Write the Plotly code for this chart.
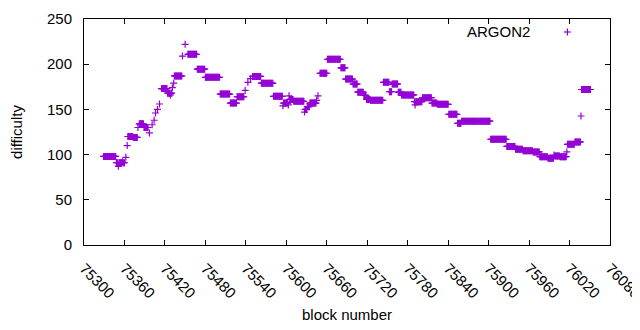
import plotly.graph_objects as go

# Runs of blocks sharing one difficulty value (start block, end block, difficulty)
run_start = [75329, 75348, 75351, 75352, 75357, 75358, 75362, 75364,
             75365, 75373, 75380, 75382, 75389, 75397,
             75401, 75404, 75406, 75409, 75412,
             75415, 75424, 75428, 75429, 75431, 75433,
             75434, 75446, 75450, 75454, 75468, 75480, 75502, 75517, 75527,
             75539, 75543, 75547, 75550, 75563, 75581,
             75595, 75596, 75603, 75604, 75605, 75611,
             75627, 75628, 75631, 75635, 75645, 75647,
             75650, 75661, 75681, 75688, 75699, 75706, 75715, 75719, 75725,
             75744, 75753, 75757, 75766, 75771, 75790, 75791, 75792,
             75802, 75816, 75824, 75841, 75854, 75860, 75903, 75927, 75940,
             75951, 75966, 75976, 75988, 75997, 75998, 76006, 76016,
             76017, 76028, 76037, 76038]
run_end = [75347, 75350, 75351, 75356, 75357, 75360, 75362, 75364,
           75372, 75379, 75380, 75388, 75395, 75397,
           75401, 75404, 75406, 75409, 75412,
           75423, 75427, 75428, 75430, 75431, 75433,
           75445, 75446, 75450, 75467, 75479, 75501, 75516, 75526, 75537,
           75539, 75543, 75547, 75562, 75580, 75594,
           75595, 75602, 75603, 75604, 75610, 75626,
           75627, 75630, 75634, 75644, 75645, 75647,
           75660, 75680, 75687, 75698, 75705, 75714, 75718, 75724, 75743,
           75752, 75756, 75765, 75770, 75789, 75790, 75791, 75801,
           75815, 75823, 75840, 75853, 75859, 75902, 75926, 75939, 75950,
           75965, 75975, 75987, 75996, 75997, 76005, 76015, 76016,
           76027, 76036, 76037, 76051]
run_difficulty = [98, 91, 87, 91, 92, 91, 97, 110,
                  120, 119, 130, 134, 130, 124,
                  133, 138, 146, 150, 156,
                  173, 168, 166, 168, 174, 179,
                  187, 209, 222, 211, 194.5, 185.5, 167, 157, 164,
                  171, 180, 184, 186.5, 179, 164.5,
                  154, 157, 155, 165, 161, 159,
                  147, 150, 153, 157, 160, 165,
                  190, 205.5, 196, 183.5, 178, 169, 165.5, 161, 160,
                  180, 169.5, 178, 169, 166, 158.5, 155, 158.5,
                  163, 157, 155.6, 144.6, 134.6, 137, 117, 109, 106,
                  104.3, 103, 97.7, 96, 99.5, 98.5, 97.7, 103,
                  111.4, 114, 142.7, 172]

x_ticks = list(range(75300, 76081, 60))
y_ticks = [0, 50, 100, 150, 200, 250]

blocks, diffs = [], []
for s, e, d in zip(run_start, run_end, run_difficulty):
    for b in range(s, e + 1):
        blocks.append(b)
        diffs.append(d)

COLOR = "#9400d3"
FONT = "Liberation Sans"

fig = go.Figure()
fig.add_trace(go.Scatter(
    x=blocks, y=diffs, mode="markers", name="ARGON2",
    marker=dict(symbol="cross-thin", size=5, color=COLOR,
                line=dict(color=COLOR, width=1.2)),
    showlegend=False,
))

axis_common = dict(
    showline=True, linecolor="black", linewidth=1, mirror="ticks",
    ticks="inside", ticklen=5, tickcolor="black", tickwidth=1,
    showgrid=False, zeroline=False, automargin=False,
    ticklabeloverflow="allow",
    tickfont=dict(family=FONT, size=15, color="black"),
)

# The page body has an 8px margin, so the figure is 8px smaller than the window.
fig.update_layout(
    width=632, height=322, autosize=False,
    margin=dict(l=76, r=30, t=11, b=85),
    paper_bgcolor="white", plot_bgcolor="white",
    font=dict(family=FONT, size=15, color="black"),
    xaxis=dict(range=[75300, 76080], tickvals=x_ticks,
               ticktext=[str(v) for v in x_ticks], tickangle=45,
               ticklabelstandoff=8,
               title=dict(text="block number", font=dict(family=FONT, size=15), standoff=9),
               **axis_common),
    yaxis=dict(range=[0, 250], tickvals=y_ticks,
               title=dict(text="difficulty", font=dict(family=FONT, size=15), standoff=20),
               ticklabelstandoff=8,
               **axis_common),
    annotations=[dict(text="ARGON2", xref="paper", yref="paper", x=0.851, y=0.9425,
                      xanchor="right", yanchor="middle", showarrow=False,
                      font=dict(family=FONT, size=15, color="black"))],
    shapes=[
        dict(type="line", xref="paper", yref="paper", xsizemode="pixel", ysizemode="pixel",
             xanchor=0.919, yanchor=0.9425, x0=-3.5, x1=3.5, y0=0, y1=0,
             line=dict(color=COLOR, width=1.2)),
        dict(type="line", xref="paper", yref="paper", xsizemode="pixel", ysizemode="pixel",
             xanchor=0.919, yanchor=0.9425, x0=0, x1=0, y0=-3.5, y1=3.5,
             line=dict(color=COLOR, width=1.2)),
    ],
)

fig.write_html("out.html")
